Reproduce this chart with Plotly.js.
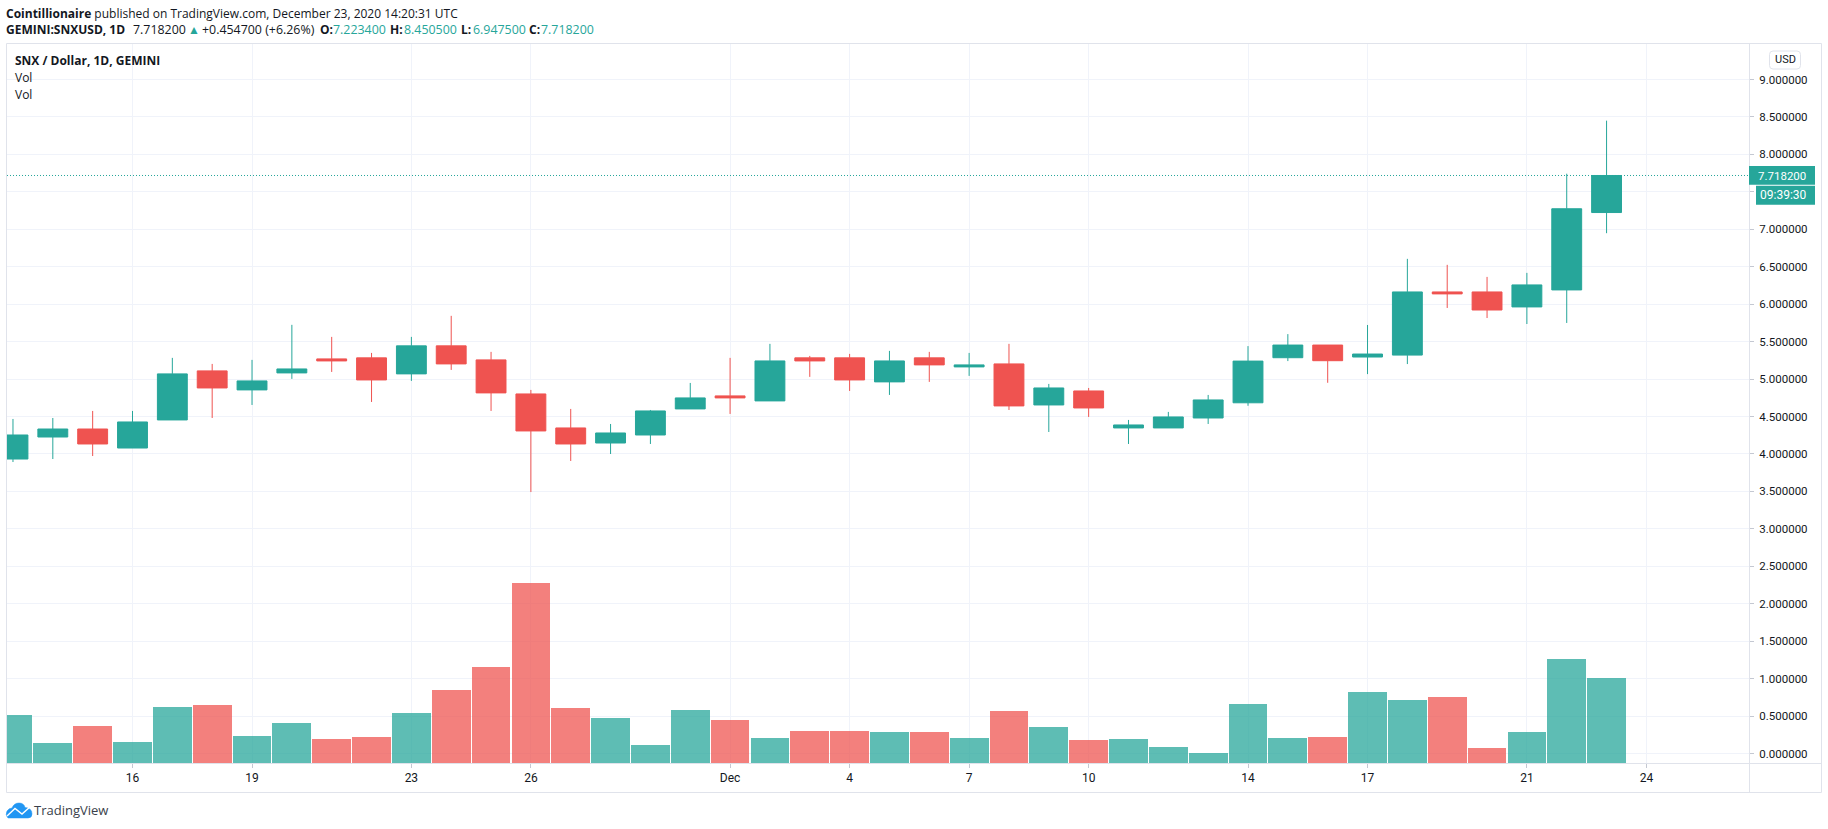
<!DOCTYPE html>
<html>
<head>
<meta charset="utf-8">
<script src="https://cdn.plot.ly/plotly-3.0.1.min.js"></script>
<style>html,body{margin:0;padding:0;background:#fff;overflow:hidden}#chart{width:1828px;height:829px}</style>
</head>
<body>
<div id="chart"></div>
<script>
const dates = ['2020-11-13','2020-11-14','2020-11-15','2020-11-16','2020-11-17','2020-11-18','2020-11-19','2020-11-20','2020-11-21','2020-11-22','2020-11-23','2020-11-24','2020-11-25','2020-11-26','2020-11-27','2020-11-28','2020-11-29','2020-11-30','2020-12-01','2020-12-02','2020-12-03','2020-12-04','2020-12-05','2020-12-06','2020-12-07','2020-12-08','2020-12-09','2020-12-10','2020-12-11','2020-12-12','2020-12-13','2020-12-14','2020-12-15','2020-12-16','2020-12-17','2020-12-18','2020-12-19','2020-12-20','2020-12-21','2020-12-22','2020-12-23'];
const opens  = [3.932,4.226,4.333,4.079,4.454,5.109,4.855,5.082,5.269,5.283,5.069,5.443,5.256,4.801,4.347,4.146,4.253,4.601,4.775,4.708,5.283,5.283,4.962,5.283,5.162,5.202,4.654,4.841,4.347,4.347,4.48,4.683,5.285,5.454,5.294,5.32,6.163,6.163,5.963,6.19,7.2234];
const highs  = [4.467,4.48,4.574,4.574,5.283,5.202,5.256,5.724,5.563,5.349,5.563,5.844,5.363,4.855,4.601,4.4,4.587,4.948,5.283,5.47,5.309,5.336,5.376,5.363,5.349,5.47,4.935,4.881,4.454,4.561,4.788,5.44,5.6,5.454,5.722,6.605,6.525,6.364,6.418,7.742,8.4505];
const lows   = [3.892,3.932,3.972,4.079,4.454,4.48,4.654,5.002,5.095,4.694,4.975,5.122,4.574,3.491,3.906,3.999,4.133,4.601,4.534,4.708,5.029,4.841,4.788,4.962,5.042,4.587,4.293,4.494,4.133,4.347,4.4,4.643,5.24,4.95,5.066,5.2,5.949,5.815,5.735,5.749,6.9475];
const closes = [4.253,4.333,4.133,4.427,5.069,4.881,4.975,5.135,5.242,4.988,5.443,5.202,4.815,4.307,4.133,4.28,4.574,4.748,4.748,5.242,5.242,4.988,5.242,5.189,5.189,4.641,4.881,4.614,4.387,4.494,4.721,5.24,5.454,5.245,5.334,6.163,6.137,5.922,6.257,7.274,7.7182];
const volumes = [0.518,0.143,0.371,0.156,0.625,0.652,0.237,0.411,0.196,0.223,0.545,0.853,1.161,2.272,0.612,0.478,0.116,0.585,0.451,0.21,0.304,0.304,0.29,0.29,0.21,0.571,0.355,0.179,0.192,0.085,0.004,0.661,0.205,0.219,0.821,0.714,0.754,0.071,0.286,1.259,1.005];
const lastPrice = 7.7182;
const xTickVals = ['2020-11-16','2020-11-19','2020-11-23','2020-11-26','2020-12-01','2020-12-04','2020-12-07','2020-12-10','2020-12-14','2020-12-17','2020-12-21','2020-12-24'];
const xTickText = ['16','19','23','26','Dec','4','7','10','14','17','21','24'];

const UP = '#26a69a', DOWN = '#ef5350', FRAME = '#e0e3eb', GRID = '#f0f3fa', INK = '#131722';
const W = 1828, H = 829, L = 7, R = 1749, T = 44, B = 763;
const yRange = [-0.127, 9.474];
const UI = '"Open Sans", sans-serif', AX = 'Roboto, sans-serif';
const px = x => (x - L) / (R - L), py = y => (B - y) / (B - T);

const volumeBars = {
  type: 'bar', x: dates, y: volumes.map(v => v - yRange[0]), base: yRange[0],
  width: 864e5 * 0.972,
  marker: {color: closes.map((c, i) => c >= opens[i] ? 'rgba(38,166,154,0.74)' : 'rgba(239,83,80,0.74)'), line: {width: 0}},
  hoverinfo: 'skip', showlegend: false
};
const candles = {
  type: 'candlestick', x: dates, open: opens, high: highs, low: lows, close: closes,
  whiskerwidth: 0,
  increasing: {line: {color: UP, width: 1}, fillcolor: UP},
  decreasing: {line: {color: DOWN, width: 1}, fillcolor: DOWN},
  showlegend: false
};

function rect(x0, y0, x1, y1, fill, line) {
  return {type: 'rect', xref: 'paper', yref: 'paper', x0: px(x0), x1: px(x1), y0: py(y0), y1: py(y1),
          fillcolor: fill || 'rgba(0,0,0,0)', line: {color: line || 'rgba(0,0,0,0)', width: line ? 1 : 0}, layer: 'above'};
}
function hline(x0, x1, y) {
  return {type: 'line', xref: 'paper', yref: 'paper', x0: px(x0), x1: px(x1), y0: py(y), y1: py(y), line: {color: FRAME, width: 1}, layer: 'above'};
}
function vline(x, y0, y1) {
  return {type: 'line', xref: 'paper', yref: 'paper', x0: px(x), x1: px(x), y0: py(y0), y1: py(y1), line: {color: FRAME, width: 1}, layer: 'above'};
}
function pathShape(pts, fill, line, width) {
  const d = pts.map(p => typeof p === 'string' ? p : px(p[0]) + ',' + py(p[1])).join(' ');
  return {type: 'path', xref: 'paper', yref: 'paper', path: d, fillcolor: fill, line: {color: line, width: width}, layer: 'above'};
}
function label(x, y, text, size, color, font, anchor) {
  return {xref: 'paper', yref: 'paper', x: px(x), y: py(y), text, showarrow: false, xanchor: anchor || 'left', yanchor: 'middle',
          font: {family: font || UI, size, color}, align: 'left', borderpad: 0, borderwidth: 0};
}

const shapes = [
  {type: 'line', xref: 'paper', yref: 'y', x0: 0, x1: 1, y0: lastPrice, y1: lastPrice, line: {color: UP, width: 1, dash: '1px,2px'}, layer: 'above'},
  rect(6.5, 43.5, 1821.5, 792.5, null, FRAME),
  vline(1749.5, 43.5, 792.5),
  hline(6.5, 1821.5, 763.5),
  rect(1749, 166, 1815, 184.7, UP),
  rect(1756, 185.7, 1815, 204.7, UP),
  pathShape(['M', [1773, 51], 'L', [1797, 51], 'Q', [1800.5, 51], [1800.5, 54.5], 'L', [1800.5, 65.5], 'Q', [1800.5, 69], [1797, 69], 'L', [1773, 69], 'Q', [1769.5, 69], [1769.5, 65.5], 'L', [1769.5, 54.5], 'Q', [1769.5, 51], [1773, 51], 'Z'], '#fff', FRAME, 1),
  pathShape(['M', [8, 818], 'Q', [5, 815], [7, 811], 'Q', [9, 808], [12, 808], 'Q', [14, 803], [19, 803], 'Q', [24, 803], [25, 807.5], 'Q', [32, 808], [32, 814], 'Q', [32, 818], [28, 818], 'Z'], '#2196f3', '#2196f3', 0.5),
  pathShape(['M', [7, 816], 'L', [15, 808.5], 'L', [22, 814], 'L', [31, 806]], 'rgba(0,0,0,0)', '#fff', 1.4)
];

const LINE2 = 29.5;
const annotations = [
  label(6, 13, '<b>Cointillionaire</b> published on TradingView.com, December 23, 2020 14:20:31 UTC', 12, INK),
  label(6, LINE2, '<b>GEMINI:SNXUSD, 1D</b>', 12, INK),
  label(133, LINE2, '7.718200', 12.4, INK),
  label(187.5, LINE2, '▲', 12, UP),
  label(202, LINE2, '+0.454700 (+6.26%)', 12.4, INK),
  label(320, LINE2, '<b>O:</b>', 12, INK),
  label(333, LINE2, '7.223400', 12.4, UP),
  label(390, LINE2, '<b>H:</b>', 12, INK),
  label(404, LINE2, '8.450500', 12.4, UP),
  label(461, LINE2, '<b>L:</b>', 12, INK),
  label(473, LINE2, '6.947500', 12.4, UP),
  label(529, LINE2, '<b>C:</b>', 12, INK),
  label(541, LINE2, '7.718200', 12.4, UP),
  label(15, 61, '<b>SNX / Dollar, 1D, GEMINI</b>', 12, INK),
  label(15, 77, 'Vol', 12, INK),
  label(15, 94, 'Vol', 12, INK),
  label(1785, 60, 'USD', 11, INK, AX, 'center'),
  label(1758, 175.5, '7.718200', 11.5, '#fff', AX),
  label(1760, 195.5, '09:39:30', 12, '#fff', AX),
  label(34, 810.5, 'TradingView', 13, '#3a3f4b')
];

const layout = {
  width: W, height: H, autosize: false,
  margin: {l: L, r: W - R, t: T, b: H - B, pad: 0, autoexpand: false},
  paper_bgcolor: '#fff', plot_bgcolor: '#fff', showlegend: false, hovermode: false,
  barmode: 'overlay', boxgap: 0.25, boxgroupgap: 0, bargap: 0,
  xaxis: {
    type: 'date', range: ['2020-11-12T20:24:00', '2020-12-26T13:48:00'],
    tickmode: 'array', tickvals: xTickVals, ticktext: xTickText, tickangle: 0,
    ticks: 'outside', ticklen: 4, tickcolor: '#c4c8d2', tickwidth: 1,
    tickfont: {family: AX, size: 12, color: INK},
    showgrid: true, gridcolor: GRID, gridwidth: 1, zeroline: false, showline: false,
    rangeslider: {visible: false}
  },
  yaxis: {
    side: 'right', range: yRange, tick0: 0, dtick: 0.5, tickformat: '.6f',
    ticks: 'outside', ticklen: 4, tickcolor: '#c4c8d2', tickwidth: 1,
    tickfont: {family: AX, size: 11.5, color: INK}, ticklabelstandoff: 3,
    showgrid: true, gridcolor: GRID, gridwidth: 1, zeroline: false, showline: false
  },
  shapes, annotations
};
Plotly.newPlot('chart', [volumeBars, candles], layout, {displayModeBar: false, staticPlot: true});
</script>
</body>
</html>
